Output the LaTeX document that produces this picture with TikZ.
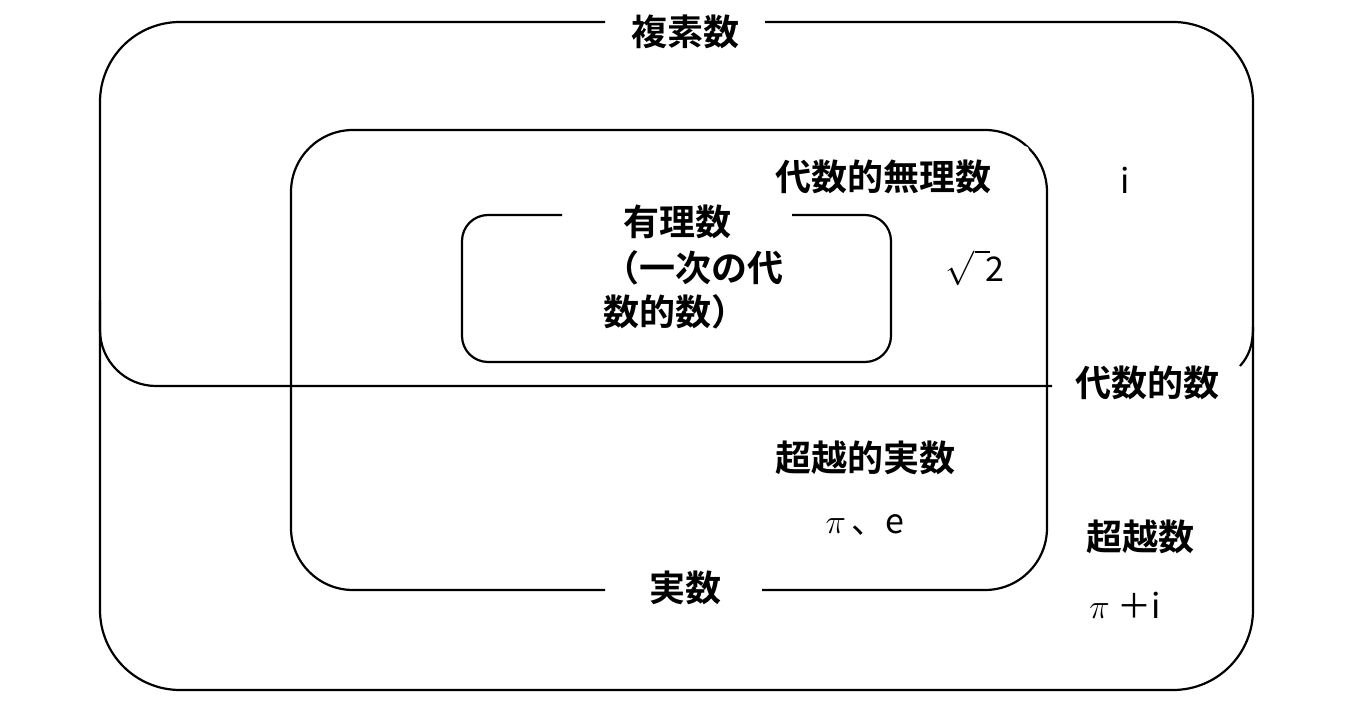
\documentclass[tikz,border=0pt]{standalone}
\usepackage{fontspec}
\newfontfamily\jb[BoldFont={Noto Sans CJK JP Bold}]{Noto Sans CJK JP}
\tikzset{lab/.style={font=\jb\bfseries\fontsize{18}{22}\selectfont,inner sep=0pt},
val/.style={font=\jb\fontsize{17}{20}\selectfont,inner sep=0pt},
ln/.style={line width=1.1pt}}
\begin{document}
\begin{tikzpicture}[x=0.5pt,y=-0.5pt]
\useasboundingbox (0,0) rectangle (1357,726);
\draw[ln,rounded corners=40] (765,22) -- (1253,22) -- (1253,690) -- (100,690) -- (100,22) -- (605,22);
\draw[ln,rounded corners=28] (100,300) -- (100,386) -- (1052,386);
\draw[ln] (1253,327) .. controls (1253,345) and (1249,356) .. (1240,366);
\draw[ln,rounded corners=31] (605,590) -- (291,590) -- (291,130) -- (1047,130) -- (1047,590) -- (762,590);
\fill[white] (1025,150) circle (4);
\draw[ln,rounded corners=13] (792,215) -- (891,215) -- (891,362) -- (462,362) -- (462,215) -- (562,215);
\node[lab] (c) at (685,32) {複素数};
\node[lab] (ai) at (883,177) {代数的無理数};
\node[val] (i) at (1125,180) {i};
\node[lab] (q1) at (677,222) {有理数};
\node[lab,anchor=west] (q2) at (603,268) {（一次の代};
\node[lab,anchor=west] (q3) at (603,312) {数的数）};
\node[val] (r2) at (975,268) {$\sqrt{\phantom{0}}$\hspace{-0.15em}2};
\node[lab] (a) at (1147,383) {代数的数};
\node[lab] (tr) at (865,458) {超越的実数};
\node[val] (pe) at (865,525) {$\pi$\,、e};
\node[lab] (r) at (685,588) {実数};
\node[lab] (t) at (1140,537) {超越数};
\node[val] (pi) at (1125,605) {$\pi$ ＋i};
\end{tikzpicture}
\end{document}
